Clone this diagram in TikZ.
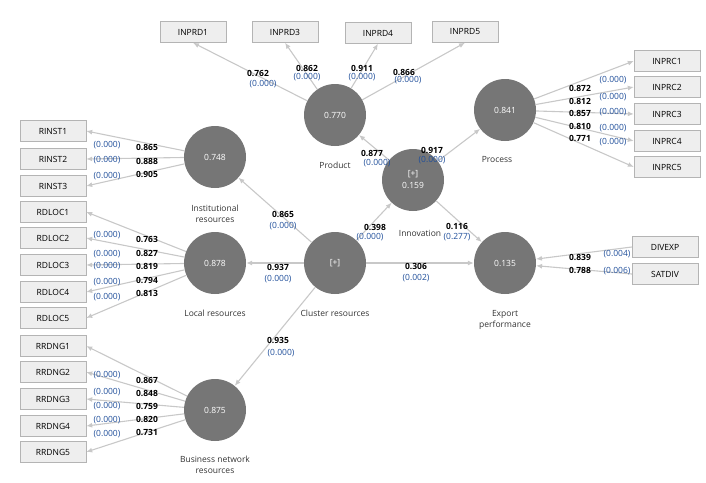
\documentclass[tikz,border=0pt]{standalone}
\usepackage{fontspec}
\setmainfont{Open Sans}
\usetikzlibrary{arrows.meta}
\definecolor{lv}{HTML}{767676}
\definecolor{bx}{HTML}{EEEEEE}
\definecolor{bxd}{HTML}{B4B4B4}
\definecolor{ln}{HTML}{C8C8C8}
\definecolor{pv}{HTML}{1F4E9A}
\begin{document}
\begin{tikzpicture}[x=1pt,y=-1pt,
 lat/.style={circle,fill=lv,minimum size=62pt,inner sep=0pt,text=white,font=\fontsize{8.5}{10}\selectfont},
 ind/.style={rectangle,fill=bx,draw=bxd,minimum width=66pt,minimum height=21pt,inner sep=0pt,font=\fontsize{8.5}{9}\selectfont},
 arr/.style={draw=ln,line width=1.1pt,-{Latex[length=6pt,width=5pt]}},
 v/.style={font=\bfseries\fontsize{8.5}{9}\selectfont,inner sep=0pt},
 p/.style={font=\fontsize{8.5}{9}\selectfont,text=pv,inner sep=0pt},
 lab/.style={font=\fontsize{8.5}{11}\selectfont,text=black!80,align=center,inner sep=0pt}]
\useasboundingbox (0,0) rectangle (706,482);
% latent
\node[lat] (prod) at (335,115) {0.770};
\node[lat] (proc) at (505,110) {0.841};
\node[lat] (inst) at (215,157) {0.748};
\node[lat] (loc) at (215,263) {0.878};
\node[lat] (clu) at (335,263) {[+]};
\node[lat,align=center] (inn) at (413,180) {[+]\\[2pt]0.159};
\node[lat] (exp) at (505,263) {0.135};
\node[lat] (bus) at (215,410) {0.875};
% labels
\node[lab] (lprod) at (335,165) {Product};
\node[lab] (lproc) at (497,160) {Process};
\node[lab] (linn) at (420,233) {Innovation};
\node[lab] (lexp) at (505,320) {Export\\performance};
\node[lab] (linst) at (215,214) {Institutional\\resources};
\node[lab] (lloc) at (215,313) {Local resources};
\node[lab] (lclu) at (335,313) {Cluster resources};
\node[lab] (lbus) at (215,465) {Business network\\resources};
% indicators
\foreach \n/\x/\y in {INPRD1/193/32,INPRD3/285/32,INPRD4/378/33,INPRD5/465/32}
  \node[ind] (\n) at (\x,\y) {\n};
\foreach \n/\y in {INPRC1/61,INPRC2/87,INPRC3/114,INPRC4/141,INPRC5/167}
  \node[ind] (\n) at (667,\y) {\n};
\foreach \n/\y in {RINST1/131,RINST2/159,RINST3/186,RDLOC1/212,RDLOC2/238,RDLOC3/265,RDLOC4/292,RDLOC5/318,RRDNG1/346,RRDNG2/372,RRDNG3/399,RRDNG4/426,RRDNG5/452}
  \node[ind] (\n) at (53,\y) {\n};
\node[ind] (DIVEXP) at (665,247) {DIVEXP};
\node[ind] (SATDIV) at (665,274) {SATDIV};
% arrows
\foreach \n in {INPRD1,INPRD3,INPRD4,INPRD5} \draw[arr] (prod) -- (\n.south);
\foreach \n in {INPRC1,INPRC2,INPRC3,INPRC4,INPRC5} \draw[arr] (proc) -- (\n.west);
\foreach \n in {RINST1,RINST2,RINST3} \draw[arr] (inst) -- (\n.east);
\foreach \n in {RDLOC1,RDLOC2,RDLOC3,RDLOC4,RDLOC5} \draw[arr] (loc) -- (\n.east);
\foreach \n in {RRDNG1,RRDNG2,RRDNG3,RRDNG4,RRDNG5} \draw[arr] (bus) -- (\n.east);
\draw[arr] (DIVEXP.west) -- (exp);
\draw[arr] (SATDIV.west) -- (exp);
\draw[arr] (clu) -- (inst);
\draw[arr] (clu) -- (loc);
\draw[arr] (clu) -- (bus);
\draw[arr] (clu) -- (inn);
\draw[arr] (clu) -- (exp);
\draw[arr] (inn) -- (prod);
\draw[arr] (inn) -- (proc);
\draw[arr] (inn) -- (exp);
% coefficient labels
\node[v] at (258,73) {0.762}; \node[p] at (263,84) {(0.000)};
\node[v] at (307,68) {0.862}; \node[p] at (307,77) {(0.000)};
\node[v] at (362,68) {0.911}; \node[p] at (362,77) {(0.000)};
\node[v] at (404,72) {0.866}; \node[p] at (408,80) {(0.000)};
\node[v] at (372,153) {0.877}; \node[p] at (377,163) {(0.000)};
\node[v] at (432,150) {0.917}; \node[p] at (432,160) {(0.000)};
\foreach \a/\b/\c/\d in {0.872/88/(0.000)/80,0.812/101/(0.000)/97,0.857/113/(0.000)/112,0.810/126/(0.000)/128,0.771/138/(0.000)/142}
 {\node[v] at (580,\b) {\a}; \node[p] at (613,\d) {\c};}
\node[v] at (375,227) {0.398}; \node[p] at (370,237) {(0.000)};
\node[v] at (457,226) {0.116}; \node[p] at (457,237) {(0.277)};
\node[v] at (416,266) {0.306}; \node[p] at (416,278) {(0.002)};
\node[v] at (580,257) {0.839}; \node[p] at (617,254) {(0.004)};
\node[v] at (580,270) {0.788}; \node[p] at (617,271) {(0.006)};
\node[v] at (283,214) {0.865}; \node[p] at (283,226) {(0.000)};
\node[v] at (278,267) {0.937}; \node[p] at (278,279) {(0.000)};
\node[v] at (278,340) {0.935}; \node[p] at (281,353) {(0.000)};
\foreach \a/\b/\d in {0.865/147/145,0.888/161/160,0.905/174/176}
 {\node[v] at (147,\b) {\a}; \node[p] at (107,\d) {(0.000)};}
\foreach \a/\b/\d in {0.763/239/235,0.827/253/254,0.819/266/266,0.794/280/282,0.813/293/297}
 {\node[v] at (147,\b) {\a}; \node[p] at (107,\d) {(0.000)};}
\foreach \a/\b/\d in {0.867/380/375,0.848/393/392,0.759/406/406,0.820/419/420,0.731/432/434}
 {\node[v] at (147,\b) {\a}; \node[p] at (107,\d) {(0.000)};}
\end{tikzpicture}
\end{document}
